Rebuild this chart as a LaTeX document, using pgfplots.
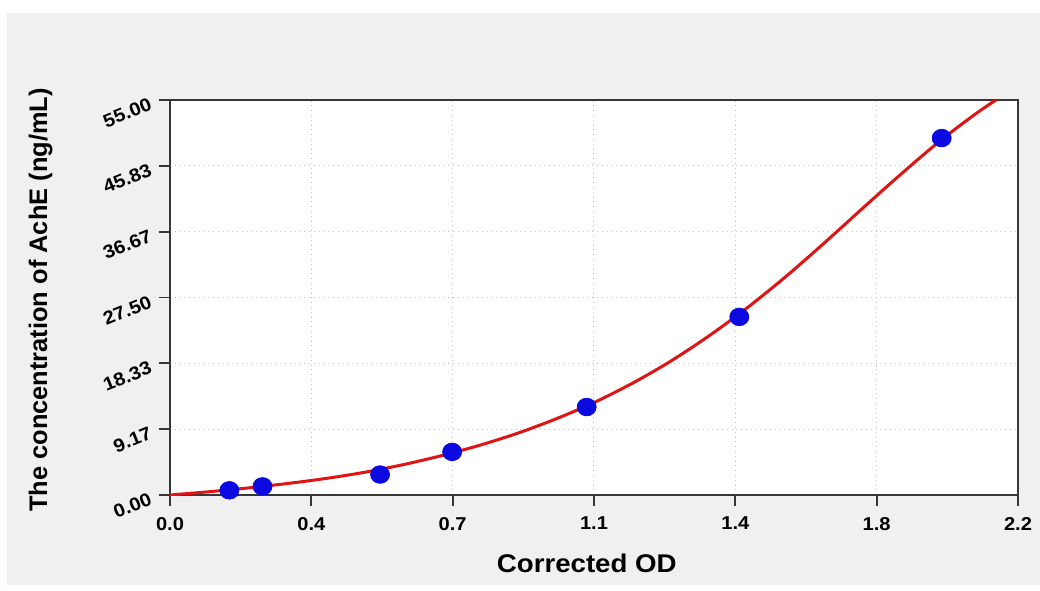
\documentclass[border=0pt]{standalone}
\usepackage{fontspec}
\setmainfont{Liberation Sans}[FakeStretch=1.08]
\newfontfamily\ylabfont{Liberation Sans}
\usepackage{pgfplots}
\pgfplotsset{compat=1.18}
\definecolor{bggray}{RGB}{240,240,240}
\definecolor{axisgray}{RGB}{55,55,55}
\definecolor{gridgray}{RGB}{190,190,190}
\definecolor{curvered}{RGB}{225,20,20}
\definecolor{markblue}{RGB}{10,10,225}
\begin{document}
\begin{tikzpicture}
\useasboundingbox (0,0) rectangle (520pt,295pt);
\fill[white] (0,0) rectangle (520pt,295pt);
\fill[bggray] (3.5pt,2.5pt) rectangle (520pt,288.5pt);
\begin{axis}[
  at={(85pt,47.5pt)}, anchor=south west,
  width=424pt, height=197.5pt, scale only axis,
  xmin=0, xmax=2.2, ymin=0, ymax=55,
  axis background/.style={fill=white},
  axis line style={draw=axisgray, line width=1pt},
  xtick={0,0.36667,0.73333,1.1,1.46667,1.83333,2.2},
  xticklabels={0.0,0.4,0.7,1.1,1.4,1.8,2.2},
  ytick={0,9.16667,18.33333,27.5,36.66667,45.83333,55},
  yticklabels={0.00,9.17,18.33,27.50,36.67,45.83,55.00},
  minor x tick num=3, minor y tick num=3,
  tick align=outside, tick pos=left,
  major tick length=5.5pt, minor tick length=4pt,
  every tick/.style={draw=axisgray, line width=0.9pt},
  grid=major,
  major grid style={draw=gridgray, dotted, line width=0.5pt},
  ticklabel style={font=\bfseries\fontsize{9.3}{10}\selectfont, text=black},
  xticklabel style={yshift=-2pt},
  yticklabel style={rotate=22, anchor=east, xshift=-1pt},
  xlabel={Corrected OD},
  xlabel style={at={(axis description cs:0.4915,0)}, anchor=base, yshift=-38.5pt, font=\bfseries\fontsize{12.8}{14}\selectfont},
  ylabel={The concentration of AchE (ng/mL)},
  ylabel style={at={(axis description cs:-0.145,0.4937)}, anchor=base, font=\ylabfont\bfseries\fontsize{12.7}{14}\selectfont},
  clip=true,
]
\addplot[only marks, mark=*, mark size=4.4pt, mark options={fill=markblue, draw=markblue, xscale=1.08}] coordinates {
  (0.154,0.65) (0.240,1.2) (0.545,2.85) (0.732,6.0) (1.081,12.25) (1.477,24.8) (2.002,49.7)
};
\addplot[smooth, color=curvered, line width=1.5pt] coordinates {
  (0,0) (0.1,0.45) (0.2,0.97) (0.3,1.57) (0.4,2.27) (0.5,3.12) (0.6,4.17)
  (0.7,5.42) (0.8,6.87) (0.9,8.57) (1.0,10.57) (1.1,12.87) (1.2,15.57)
  (1.3,18.67) (1.4,22.22) (1.5,26.17) (1.6,30.52) (1.7,35.22) (1.8,40.07)
  (1.9,44.85) (2.0,49.4) (2.1,53.45) (2.2,57.0)
};
\node[anchor=base east, font=\bfseries\fontsize{9.8}{11}\selectfont] at (axis description cs:1,1.1225) {S = 0.38411652};
\node[anchor=base east, font=\bfseries\fontsize{9.8}{11}\selectfont] at (axis description cs:1,1.0618) {r = 0.99985961};
\end{axis}
\end{tikzpicture}
\end{document}
